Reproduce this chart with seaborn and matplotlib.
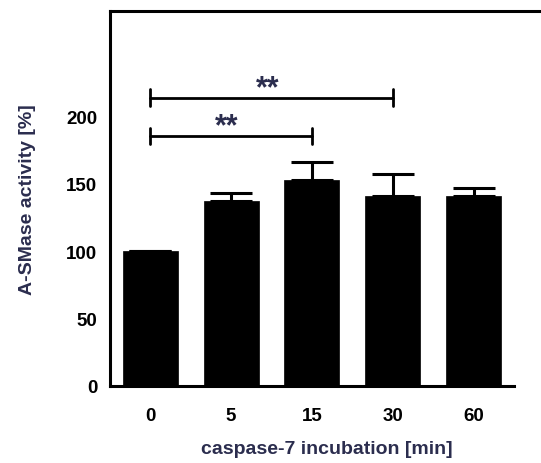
import matplotlib
matplotlib.use('Agg')
import matplotlib.pyplot as plt
import numpy as np
import pandas as pd
import seaborn as sns

# данные с картинки
times = ['0', '5', '15', '30', '60']
activity = [100.0, 137.3, 152.6, 141.0, 140.5]
err_upper = [0.0, 5.7, 13.4, 16.5, 6.5]

# значимость: (от, до, высота)
sig_pairs = [(0, 2, 185.4), (0, 3, 213.9)]
sig_labels = ['**', '**']

navy = '#2b2d4e'

sns.set_theme(style='white')
plt.rcParams['font.family'] = ['Liberation Sans', 'DejaVu Sans']
plt.rcParams['font.weight'] = 'bold'

df = pd.DataFrame({'time': times, 'activity': activity})

fig = plt.figure(figsize=(5.41, 4.64), dpi=100)
ax = fig.add_axes([0.203, 0.166, 0.804, 0.808])

sns.barplot(data=df, x='time', y='activity', color='black', width=0.68,
            errorbar=None, saturation=1, ax=ax)
for p in ax.patches:
    p.set_edgecolor('black')
    p.set_linewidth(0.5)

x = np.arange(len(times))
ax.errorbar(x, activity, yerr=[np.zeros(len(times)), err_upper], fmt='none',
            ecolor='black', elinewidth=2.2, capsize=15, capthick=2.2)

for (a, b, h), lab in zip(sig_pairs, sig_labels):
    ax.plot([a, b], [h, h], color='black', lw=2)
    ax.plot([a, a], [h - 6, h + 6], color='black', lw=2)
    ax.plot([b, b], [h - 6, h + 6], color='black', lw=2)
    ax.text((a + b) / 2 - 0.05, h - 4, lab, ha='center', va='bottom',
            fontsize=22, fontweight='bold', color=navy)

ax.set_xlim(-0.5, 4.88)
ax.set_ylim(0, 278)
ax.set_yticks([0, 50, 100, 150, 200])
ax.spines['right'].set_visible(False)
ax.spines['bottom'].set_bounds(-0.5, 4.5)
for s in ['left', 'top', 'bottom']:
    ax.spines[s].set_linewidth(2.2)
    ax.spines[s].set_color('black')

ax.tick_params(axis='both', direction='out', length=6, width=2, color='black',
               labelsize=13.5, labelcolor='black', pad=3)
ax.tick_params(axis='x', pad=9)
for lbl in ax.get_xticklabels() + ax.get_yticklabels():
    lbl.set_fontweight('bold')

ax.set_xlabel('caspase-7 incubation [min]', fontsize=14, fontweight='bold',
              color=navy, labelpad=12)
ax.set_ylabel('A-SMase activity [%]', fontsize=14, fontweight='bold',
              color=navy, labelpad=22)

fig.savefig('out.png', dpi=100)
